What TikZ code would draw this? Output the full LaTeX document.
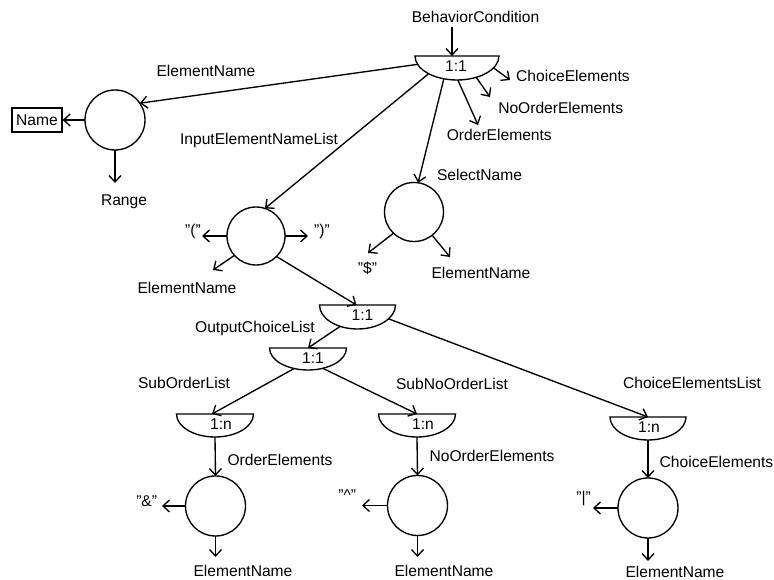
\documentclass[tikz,border=0pt]{standalone}
\usepackage{fontspec}
\setmainfont{Liberation Sans}
\usetikzlibrary{shapes.geometric,arrows.meta,calc}

% half-disc gate: #1 name, #2 x, #3 y, #4 x radius, #5 y radius, #6 text shift, #7 text
% the node centre sits on the flat top edge
\newcommand\halfdisc[7]{%
  \node[gatebox, minimum width=2*#4, minimum height=2*#5] (#1) at (#2,#3) {};
  \draw[wire] (#1.west) arc[start angle=180, end angle=360, x radius=#4, y radius=#5] -- cycle;
  \node[gatetext] (#1-t) at ([shift={(#6,-10pt)}]#1.center) {#7};
}

\begin{document}
\begin{tikzpicture}[x=1pt, y=1pt,
  font=\fontsize{15.6}{18}\selectfont,
  wire/.style={line width=1.35pt},
  arr/.style={wire, -{Straight Barb[length=6.5pt, width=12pt]}},
  gatebox/.style={ellipse, inner sep=0pt, outer sep=0pt},
  gatetext/.style={inner sep=0pt},
  rolecircle/.style={circle, draw, line width=1.35pt, inner sep=0pt, outer sep=0pt, minimum size=#1},
  rolecircle/.default=60pt,
  lbl/.style={anchor=base, yshift=-5.6pt, inner sep=0pt},
  namebox/.style={draw, line width=1.35pt, minimum width=50pt, minimum height=24pt, inner sep=0pt}
]
\useasboundingbox (0,0) rectangle (774,580);

% ---- gates ----
\halfdisc{g0}{457}{524}{42pt}{24pt}{-1pt}{1:1}
\halfdisc{g1}{357.5}{275}{38pt}{24pt}{5pt}{1:1}
\halfdisc{g2}{308}{232}{38.5pt}{22pt}{5pt}{1:1}
\halfdisc{g3}{215}{166}{38.5pt}{23pt}{6pt}{1:n}
\halfdisc{g4}{417}{166}{38.5pt}{23pt}{6pt}{1:n}
\halfdisc{g5}{648}{163}{38pt}{23pt}{1pt}{1:n}

% ---- role circles ----
\node[rolecircle] (c0) at (115,460) {};
\node[rolecircle=58pt] (c1) at (256,344) {};
\node[rolecircle=59pt] (c2) at (414,368) {};
\node[rolecircle] (c3) at (215.5,74) {};
\node[rolecircle] (c4) at (417.5,74.5) {};
\node[rolecircle] (c5) at (648,72) {};

% ---- labels ----
\node[lbl] (bc) at (475.5,562.8) {BehaviorCondition};
\node[lbl] (ce) at (573,504.2) {ChoiceElements};
\node[lbl] (noe) at (560.7,472.5) {NoOrderElements};
\node[lbl] (oe) at (499.3,445.3) {OrderElements};
\node[lbl] (en0) at (206,509.2) {ElementName};
\node[namebox] (name) at (37,460) {Name};
\node[lbl] (range) at (124,380.5) {Range};
\node[lbl] (ienl) at (259,440.8) {InputElementNameList};
\node[lbl] (sel) at (479.5,405.3) {SelectName};
\node[lbl] (lp) at (193,349.6) {"("};
\node[lbl] (rp) at (322,349.6) {")"};
\node[lbl] (en1) at (187,292.5) {ElementName};
\node[lbl] (dol) at (367.5,311.9) {"\$"};
\node[lbl] (en2) at (481,307.5) {ElementName};
\node[lbl] (ocl) at (255,253.3) {OutputChoiceList};
\node[lbl] (sol) at (184,196.7) {SubOrderList};
\node[lbl] (snol) at (452,196.2) {SubNoOrderList};
\node[lbl] (cel) at (692,196.8) {ChoiceElementsList};
\node[lbl] (oe2) at (280,120.3) {OrderElements};
\node[lbl] (noe2) at (492,123.8) {NoOrderElements};
\node[lbl] (ce2) at (716.5,118.3) {ChoiceElements};
\node[lbl] (amp) at (146.7,79.5) {"\&"};
\node[lbl] (car) at (347.3,84.9) {"\^{}"};
\node[lbl] (bar) at (583.7,83) {"|"};
\node[lbl] (en3) at (243,9) {ElementName};
\node[lbl] (en4) at (444,9) {ElementName};
\node[lbl] (en5) at (675,8) {ElementName};

% ---- free arrow ends ----
\coordinate (tBC) at (452,553);
\coordinate (tCE) at (510,500);
\coordinate (tNOE) at (490,483);
\coordinate (tOE) at (478,455);
\coordinate (tRange) at (115,397);
\coordinate (tLP) at (202,344);
\coordinate (tRP) at (308,344);
\coordinate (tEN1) at (213,310);
\coordinate (tDol) at (368,327);
\coordinate (tEN2) at (450,323);
\coordinate (tAmp) at (162,74);
\coordinate (tEN3) at (215.5,23);
\coordinate (tCar) at (362,74.5);
\coordinate (tEN4) at (417.5,23);
\coordinate (tBar) at (593,72);
\coordinate (tEN5) at (648,19);

% ---- connectors ----
\draw[arr] (tBC) -- (tBC |- g0.center);
\draw[arr] (g0.-18) -- (tCE);
\draw[arr] (g0.-48) -- (tNOE);
\draw[arr] (g0.-88) -- (tOE);
\draw[arr] (g0.-120) -- (c2.82);
\draw[arr] (g0.-148) -- (c1.72);
\draw[arr] (g0.-168) -- (c0.34);

\draw[arr] (c0.west) -- (name.east);
\draw[arr] (c0.south) -- (tRange);

\draw[arr] (c1.west) -- (tLP);
\draw[arr] (c1.east) -- (tRP);
\draw[arr] (c1.-138) -- (tEN1);
\draw[arr] (c1.-45) -- ([xshift=-1pt]g1.center);

\draw[arr] (c2.-134) -- (tDol);
\draw[arr] (c2.-52) -- (tEN2);

\draw[arr] (g1.-129) -- (g2.center);
\draw[arr] (g1.-24) -- (g5.center);

\draw[arr] (g2.-124) -- ([xshift=-3pt]g3.center);
\draw[arr] (g2.-54) -- (g4.center);

\draw[arr] (g3.south) -- (c3.north);
\draw[arr] (c3.west) -- (tAmp);
\draw[arr] (c3.south) -- (tEN3);

\draw[arr] (g4.south) -- (c4.north);
\draw[arr] (c4.west) -- (tCar);
\draw[arr] (c4.south) -- (tEN4);

\draw[arr] (g5.south) -- (c5.north);
\draw[arr] (c5.west) -- (tBar);
\draw[arr] (c5.south) -- (tEN5);
\end{tikzpicture}
\end{document}
